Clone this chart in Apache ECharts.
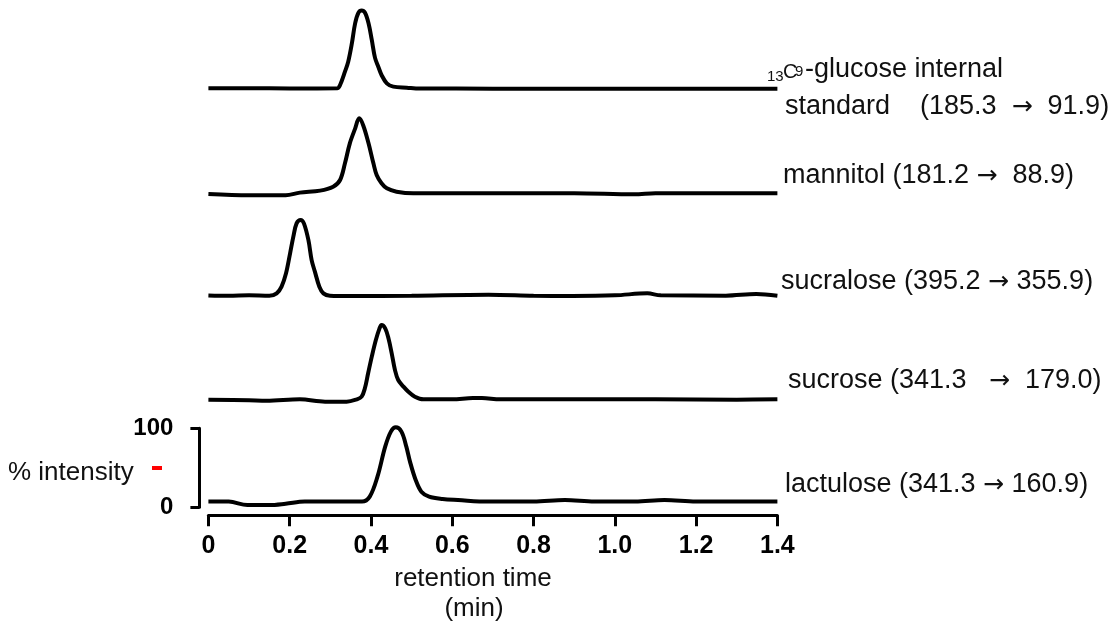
<!DOCTYPE html>
<html>
<head>
<meta charset="utf-8">
<script src="https://cdn.jsdelivr.net/npm/echarts@6/dist/echarts.min.js"></script>
<style>
  html, body { margin: 0; background: #fff; }
  #chart { width: 1116px; height: 622px; }
</style>
</head>
<body>
<div id="chart"></div>
<script>
// retention time (min), % intensity
const glucoseIS = [[0,1.5],[0.1,1.6],[0.2,1.4],[0.317,1.5],[0.324,5.7],[0.336,22.6],[0.344,35.2],[0.353,58.4],[0.361,83.7],[0.369,97],[0.377,100],[0.385,97.5],[0.394,84],[0.402,62.7],[0.41,40],[0.418,28.9],[0.426,18.4],[0.439,7.8],[0.455,3.6],[0.488,2.3],[0.52,1.2],[0.7,1.1],[0.9,1.1],[1.1,1.1],[1.3,1.1],[1.4,1.1]]
const mannitol = [[0,1.3],[0.1,-0.4],[0.19,-0.4],[0.225,3],[0.275,5.5],[0.307,10.5],[0.324,19],[0.336,40.1],[0.348,65.4],[0.361,84],[0.371,97],[0.381,88],[0.394,65.4],[0.406,40.1],[0.414,25.3],[0.426,14.8],[0.439,8.4],[0.463,4.2],[0.504,2.1],[0.7,2.1],[0.9,2.1],[1.047,0.8],[1.1,2.1],[1.25,2.3],[1.4,2.1]]
const sucralose = [[0,2],[0.05,1.5],[0.1,2.2],[0.15,1.5],[0.168,4.6],[0.18,13.1],[0.191,30],[0.201,55.3],[0.209,76.4],[0.217,93.2],[0.227,97.5],[0.235,93.2],[0.246,72.2],[0.254,46.8],[0.262,32.1],[0.273,13.1],[0.283,4.6],[0.299,1.7],[0.35,1.3],[0.5,1.7],[0.689,2.9],[0.8,1.7],[0.896,1.3],[1.0,2.1],[1.08,4.6],[1.113,2.1],[1.273,1.7],[1.348,3.8],[1.4,1.7]]
const sucrose = [[0,2.3],[0.1,1.5],[0.143,1.0],[0.225,2.7],[0.287,-0.2],[0.34,-0.2],[0.365,2.7],[0.377,6.1],[0.385,16.7],[0.393,35.7],[0.402,56.8],[0.412,77.8],[0.421,92.6],[0.426,96.8],[0.435,92.6],[0.443,80],[0.451,61],[0.459,39.9],[0.467,27.2],[0.48,18.8],[0.492,12.4],[0.508,6.1],[0.529,2.7],[0.6,2.7],[0.651,4.4],[0.673,4.4],[0.718,2.7],[0.9,2.7],[1.1,2.7],[1.3,2.3],[1.4,2.7]]
const lactulose = [[0,7.2],[0.05,7.2],[0.096,2.9],[0.15,2.9],[0.19,4.5],[0.237,7.2],[0.3,7.2],[0.378,7.2],[0.397,13.5],[0.416,38.8],[0.435,76.8],[0.449,95.8],[0.461,101.3],[0.475,95.8],[0.487,76.8],[0.496,57.8],[0.51,34.6],[0.524,19.8],[0.543,13.5],[0.576,10.5],[0.614,9.2],[0.689,7.2],[0.8,7.2],[0.877,9.2],[0.95,7.2],[1.05,7.2],[1.122,9.2],[1.2,7.2],[1.3,7.2],[1.4,7.2]]

const traces = [glucoseIS, mannitol, sucralose, sucrose, lactulose]
const xTicks = [0, 0.2, 0.4, 0.6, 0.8, 1.0, 1.2, 1.4]
const yTicks = [0, 100]

const font = "'Liberation Sans', Arial, sans-serif"

// baseline (0 %) of each stacked trace, in px, and height of 100 %
const traceZero = [89.5, 195, 297, 401.5, 507.3]
const unitH = 79

const chart = echarts.init(document.getElementById('chart'))

const last = traces.length - 1

const rich = {
  a: { fontFamily: 'DejaVu Sans', fontSize: 25, fill: '#111' }
}
const label = (text, x, y, size = 27) => ({
  type: 'text',
  style: {
    text: text,
    x: x,
    y: y,
    font: size + 'px ' + font,
    fill: '#111',
    rich: rich,
    textVerticalAlign: 'middle',
    verticalAlign: 'middle'
  }
})

const option = {
  animation: false,
  backgroundColor: '#fff',
  grid: traceZero.map((z) => ({
    left: 208.4,
    width: 569,
    top: z - unitH,
    height: unitH
  })),
  xAxis: traces.map((d, i) => ({
    gridIndex: i,
    type: 'value',
    min: xTicks[0],
    max: xTicks[xTicks.length - 1],
    interval: 0.2,
    show: i === last,
    position: 'bottom',
    offset: 8,
    axisLine: { show: true, onZero: false, lineStyle: { color: '#000', width: 3 } },
    axisTick: { show: true, length: 11, lineStyle: { color: '#000', width: 3 } },
    axisLabel: {
      margin: 18,
      color: '#000',
      fontFamily: font,
      fontWeight: 'bold',
      fontSize: 25,
      formatter: (v) => (v === 0 ? '0' : v.toFixed(1))
    },
    splitLine: { show: false }
  })),
  yAxis: traces.map((d, i) => ({
    gridIndex: i,
    type: 'value',
    min: yTicks[0],
    max: yTicks[1],
    interval: 100,
    show: i === last,
    position: 'left',
    offset: 9,
    axisLine: { show: true, onZero: false, lineStyle: { color: '#000', width: 3 } },
    axisTick: { show: true, length: 9, lineStyle: { color: '#000', width: 3 } },
    axisLabel: {
      margin: 26,
      color: '#000',
      fontFamily: font,
      fontWeight: 'bold',
      fontSize: 24
    },
    splitLine: { show: false }
  })),
  series: traces.map((d, i) => ({
    type: 'line',
    xAxisIndex: i,
    yAxisIndex: i,
    data: d,
    showSymbol: false,
    smooth: 0.35,
    clip: false,
    lineStyle: { color: '#000', width: 4 }
  })),
  graphic: [
    // y axis title + red dash
    label('% intensity', 8, 473, 26),
    { type: 'rect', shape: { x: 152, y: 466, width: 10, height: 4 }, style: { fill: '#ff0000' } },
    // x axis title
    { type: 'text', style: { text: 'retention time', x: 473, y: 579, font: '26px ' + font, fill: '#111', textAlign: 'center', align: 'center', textVerticalAlign: 'middle', verticalAlign: 'middle' } },
    { type: 'text', style: { text: '(min)', x: 474, y: 609, font: '26px ' + font, fill: '#111', textAlign: 'center', align: 'center', textVerticalAlign: 'middle', verticalAlign: 'middle' } },
    // trace labels
    label('13', 767, 77, 15),
    label('C', 783, 72, 20),
    label('9', 795, 72, 15),
    label('-glucose internal', 805, 70),
    label('standard    (185.3  {a|\u2192}  91.9)', 785, 107),
    label('mannitol (181.2 {a|\u2192}  88.9)', 783, 176),
    label('sucralose (395.2 {a|\u2192} 355.9)', 781, 282),
    label('sucrose (341.3   {a|\u2192}  179.0)', 788, 381),
    label('lactulose (341.3 {a|\u2192} 160.9)', 785, 485)
  ]
}

chart.setOption(option)
</script>
</body>
</html>
